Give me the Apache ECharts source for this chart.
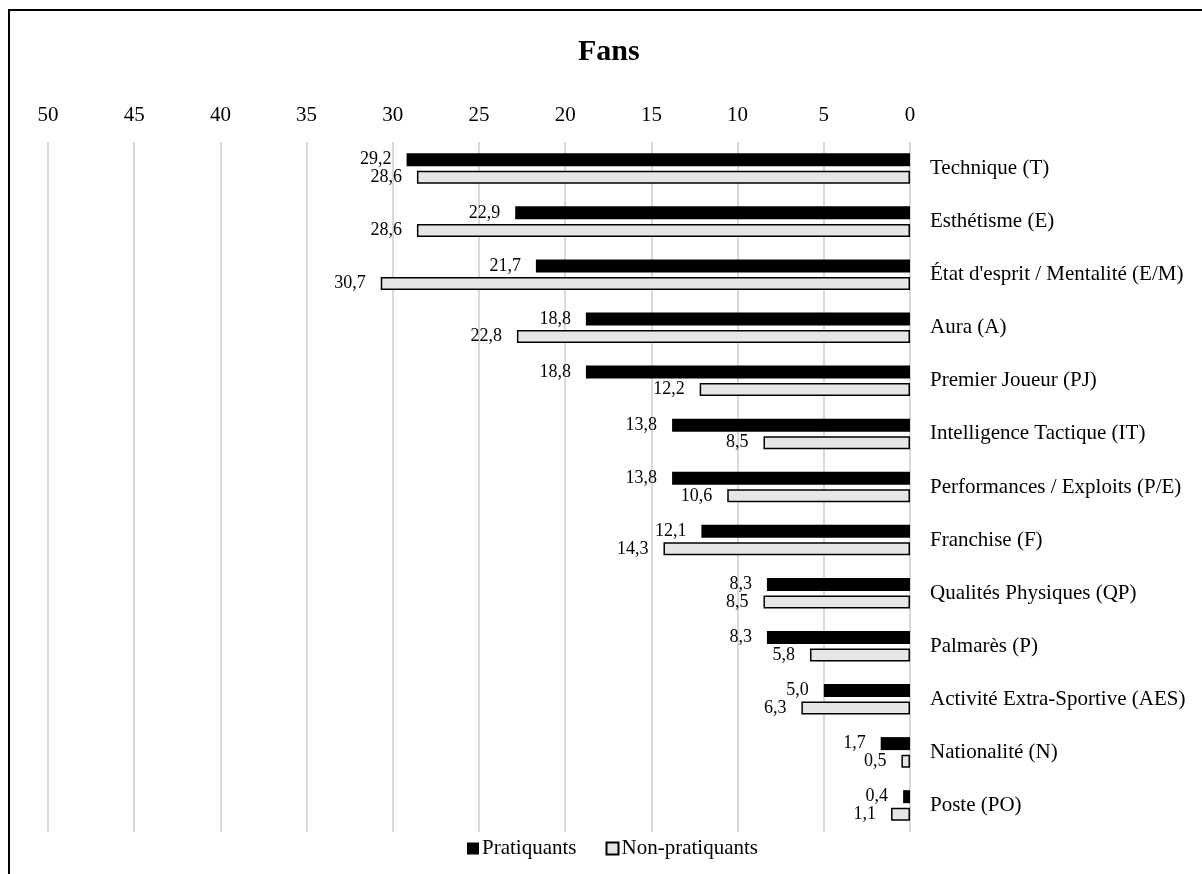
<!DOCTYPE html>
<html>
<head>
<meta charset="utf-8">
<script src="https://cdn.jsdelivr.net/npm/echarts@6/dist/echarts.min.js"></script>
<style>
html,body{margin:0;padding:0;background:#fff;}
#chart{width:1202px;height:874px;}
#frame{position:absolute;left:8px;top:9px;width:1300px;height:1000px;border-left:2px solid #000;border-top:2px solid #000;pointer-events:none;}
</style>
</head>
<body>
<div id="chart"></div>
<div id="frame"></div>
<script>
var categories = ["Technique (T)","Esthétisme (E)","État d'esprit / Mentalité (E/M)","Aura (A)","Premier Joueur (PJ)","Intelligence Tactique (IT)","Performances / Exploits (P/E)","Franchise (F)","Qualités Physiques (QP)","Palmarès (P)","Activité Extra-Sportive (AES)","Nationalité (N)","Poste (PO)"];
var pratiquants = [29.2,22.9,21.7,18.8,18.8,13.8,13.8,12.1,8.3,8.3,5.0,1.7,0.4];
var nonPratiquants = [28.6,28.6,30.7,22.8,12.2,8.5,10.6,14.3,8.5,5.8,6.3,0.5,1.1];
var titleText = "Fans";
var seriesNames = ["Pratiquants","Non-pratiquants"];

var FONT = "'Liberation Serif','Times New Roman',serif";
function fmt(p){ return p.value.toFixed(1).replace('.', ','); }

var chart = echarts.init(document.getElementById('chart'));
chart.setOption({
  animation:false,
  backgroundColor:'#fff',
  title:{text:titleText,left:573,top:32,textStyle:{fontFamily:FONT,fontWeight:'bold',fontSize:30,color:'#000'}},
  legend:{
    bottom:10,left:462,itemWidth:12,itemHeight:12,itemGap:29,icon:'rect',
    textStyle:{fontFamily:FONT,fontSize:21,color:'#000',padding:[0,0,0,-2]},
    data:seriesNames
  },
  grid:{left:48,right:292,top:142,bottom:42,containLabel:false},
  xAxis:{
    type:'value',inverse:true,position:'top',min:0,max:50,interval:5,
    axisLine:{show:false},axisTick:{show:false},
    axisLabel:{fontFamily:FONT,fontSize:21,color:'#000',margin:16},
    splitLine:{show:true,lineStyle:{color:'#d9d9d9',width:2}}
  },
  yAxis:{
    type:'category',inverse:true,position:'right',data:categories,
    axisLine:{show:false},axisTick:{show:false},
    axisLabel:{fontFamily:FONT,fontSize:21,color:'#000',margin:20}
  },
  series:[
    {name:seriesNames[0],type:'bar',data:pratiquants,barWidth:13,barGap:'35%',
     itemStyle:{color:'#000'},
     label:{show:true,position:'left',distance:15,formatter:fmt,fontFamily:FONT,fontSize:18,color:'#000'}},
    {name:seriesNames[1],type:'bar',data:nonPratiquants,barWidth:13,
     itemStyle:{color:'#e6e6e6',borderColor:'#000',borderWidth:1.5},
     label:{show:true,position:'left',distance:15,formatter:fmt,fontFamily:FONT,fontSize:18,color:'#000'}}
  ]
});
</script>
</body>
</html>
